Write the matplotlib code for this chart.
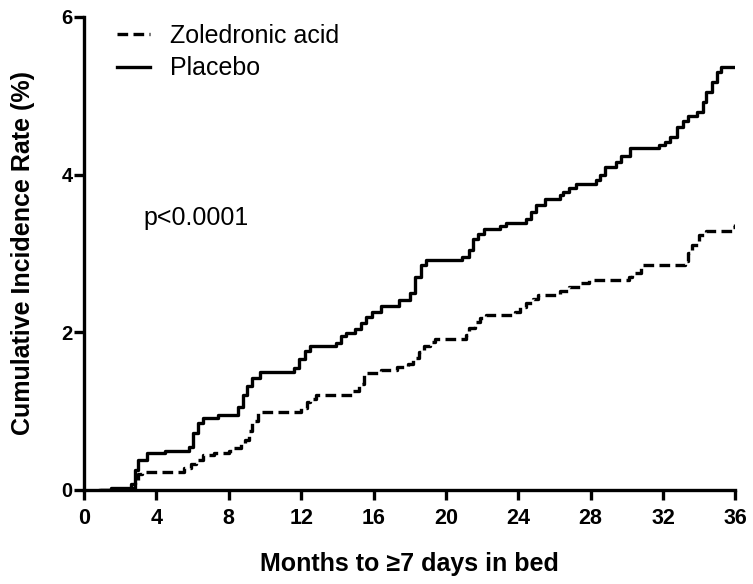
import matplotlib.pyplot as plt
import numpy as np

plt.rcParams['font.family'] = ['Liberation Sans', 'DejaVu Sans']

# cumulative incidence curves (months, %)
mois_placebo = [0.9, 1.5, 2.6, 2.8, 3.0, 3.5, 4.5, 5.8, 6.0, 6.3, 6.6, 7.4, 8.5, 8.8, 9.0, 9.3,
                9.7, 11.6, 11.9, 12.2, 12.5, 13.9, 14.2, 14.5, 15.0, 15.3, 15.6, 15.9, 16.4,
                17.4, 18.0, 18.3, 18.6, 18.9, 20.9, 21.3, 21.5, 21.8, 22.1, 23.0, 23.3, 24.4,
                24.7, 25.0, 25.5, 26.3, 26.5, 26.8, 27.2, 28.3, 28.5, 28.8, 29.4, 29.7, 30.2,
                31.8, 32.1, 32.4, 32.8, 33.1, 33.4, 33.9, 34.2, 34.4, 34.7, 35.0, 35.2, 36.0]
taux_placebo = [0.0, 0.03, 0.08, 0.25, 0.38, 0.47, 0.49, 0.55, 0.72, 0.85, 0.91, 0.95, 1.05, 1.20,
                1.32, 1.42, 1.50, 1.55, 1.66, 1.76, 1.82, 1.87, 1.95, 1.99, 2.04, 2.12, 2.20,
                2.26, 2.33, 2.41, 2.50, 2.70, 2.85, 2.92, 2.96, 3.05, 3.18, 3.25, 3.31, 3.35,
                3.39, 3.44, 3.52, 3.62, 3.69, 3.74, 3.78, 3.83, 3.88, 3.93, 4.00, 4.10, 4.16,
                4.24, 4.34, 4.38, 4.42, 4.48, 4.60, 4.68, 4.74, 4.80, 4.92, 5.05, 5.18, 5.30,
                5.37, 5.37]

mois_zol = [0.9, 2.6, 2.8, 3.0, 3.2, 5.5, 5.9, 6.2, 6.6, 7.2, 8.0, 8.3, 8.7, 8.9, 9.1, 9.3, 9.6,
            12.0, 12.3, 12.5, 12.8, 14.8, 15.2, 15.5, 16.4, 17.3, 17.9, 18.2, 18.5, 18.8, 19.1,
            19.4, 21.1, 21.3, 21.6, 21.9, 22.2, 23.8, 24.1, 24.4, 24.8, 25.1, 26.3, 26.8, 27.4,
            27.9, 30.1, 30.3, 30.8, 33.2, 33.4, 33.6, 34.0, 34.4, 35.8, 36.0]
taux_zol = [0.0, 0.03, 0.12, 0.20, 0.23, 0.28, 0.33, 0.38, 0.44, 0.47, 0.49, 0.53, 0.58, 0.63,
            0.75, 0.88, 0.99, 1.04, 1.12, 1.16, 1.21, 1.25, 1.35, 1.48, 1.52, 1.56, 1.60, 1.68,
            1.75, 1.83, 1.88, 1.91, 1.96, 2.06, 2.13, 2.18, 2.22, 2.26, 2.32, 2.37, 2.42, 2.47,
            2.52, 2.58, 2.63, 2.66, 2.70, 2.75, 2.85, 2.90, 3.00, 3.11, 3.23, 3.29, 3.34, 3.37]

xticks = np.arange(0, 37, 4)
yticks = [0, 2, 4, 6]

fig = plt.figure(figsize=(7.53, 5.84), dpi=100)
ax = fig.add_axes([0.1116, 0.161, 0.865, 0.81])

ax.step(mois_zol, taux_zol, where='post', color='black', lw=2.4, linestyle=(0, (3.2, 1.6)),
        label='Zoledronic acid')
ax.step(mois_placebo, taux_placebo, where='post', color='black', lw=2.4, label='Placebo')

ax.set_xlim(0, 36)
ax.set_ylim(0, 6)
ax.set_xticks(xticks)
ax.set_yticks(yticks)

for cote in ['top', 'right']:
    ax.spines[cote].set_visible(False)
for cote in ['left', 'bottom']:
    ax.spines[cote].set_linewidth(2.4)

ax.tick_params(axis='both', direction='out', length=7.2, width=2.4)
ax.tick_params(axis='x', labelsize=15.5, pad=6)
ax.tick_params(axis='y', labelsize=14.5, pad=1)
for lab in ax.get_xticklabels() + ax.get_yticklabels():
    lab.set_fontweight('bold')

ax.set_xlabel('Months to \u22657 days in bed', fontsize=18, fontweight='bold', labelpad=16)
ax.set_ylabel('Cumulative Incidence Rate (%)', fontsize=18, fontweight='bold', labelpad=19)

ax.text(3.28, 3.45, 'p<0.0001', fontsize=18, va='center', ha='left')

leg = ax.legend(loc='upper left', bbox_to_anchor=(0.05, 0.986), frameon=False, fontsize=18,
                handlelength=1.35, handletextpad=0.8, labelspacing=0.35,
                borderpad=0, borderaxespad=0)

fig.savefig('out.png', dpi=100)
plt.close()
